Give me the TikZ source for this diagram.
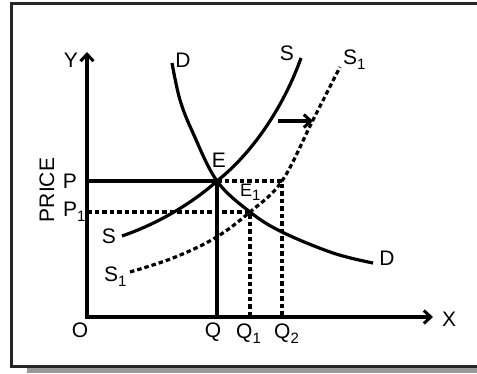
\documentclass[tikz,border=0pt]{standalone}
\usepackage{fontspec}
\setmainfont{Liberation Sans}
\usetikzlibrary{calc, positioning}
\usetikzlibrary{arrows.meta}

\newcommand{\lowsub}[1]{\raisebox{-0.45ex}{\fontsize{15}{15}\selectfont #1}}

\begin{document}
\begin{tikzpicture}[x=1pt,y=1pt,
  lbl/.style={inner sep=0pt, font=\fontsize{21}{24}\selectfont},
  axisline/.style={line width=3.4pt, -{Straight Barb[length=7pt,width=13pt,line width=3pt]}},
  curveline/.style={line width=3.2pt},
  dotline/.style={line width=3.2pt, dash pattern=on 4.5pt off 3pt}]
\useasboundingbox (0,0) rectangle (477,373);
\colorlet{framegray}{black!85}
\colorlet{shadowgray}{black!40}

% frame with shadow
\fill[shadowgray] (27,0) rectangle (477,6);
\draw[line width=3pt, framegray] (11,7) rectangle (482,369);

\coordinate (O) at (87,56);
\coordinate (Ytop) at (87,321);
\coordinate (Xend) at (433,56);
\coordinate (E) at (217,192);
\coordinate (E1) at (250,161);
\coordinate (P) at (87,192);
\coordinate (P1) at (87,161);
\coordinate (Q) at (217,56);
\coordinate (Q1) at (250,56);
\coordinate (Q2) at (282,56);
\coordinate (C2) at (282,192);

% axes
\draw[axisline] ($(O)+(0,-1.7)$) -- (Ytop);
\draw[axisline] ($(O)+(-1.7,0)$) -- (Xend);

% equilibrium lines
\draw[curveline] (P) -- (E) -- (Q);
\draw[dotline] (P1) -- (E1) -- (Q1);
\draw[dotline] (E) -- (C2) -- (Q2);

% demand
\draw[curveline] plot[smooth, tension=0.6] coordinates
  {(172,310) (180,273) (193,240) (217,192) (250,161) (282,141) (333,120) (373,110)};
% supply
\draw[curveline] (122,137) .. controls (160,150) and (195,172) .. (E)
  .. controls (255,222) and (285,270) .. (301,315);
% shifted supply
\draw[dotline] plot[smooth, tension=0.6] coordinates
  {(130,101) (173,115) (215,135) (250,161) (282,192) (313,253) (340,306)};

\coordinate (shiftA) at (278,252);
\coordinate (shiftB) at (313,252);
\draw[line width=3.2pt, -{Straight Barb[length=7pt,width=13pt,line width=3pt]}] (shiftA) -- (shiftB);

% labels
\node[lbl] (ylab) at (71,313) {Y};
\node[lbl] (xlab) at (449,54) {X};
\node[lbl] (olab) at (80,43) {O};
\node[lbl, rotate=90] (pricelab) at (47,183) {PRICE};
\node[lbl] (plab) at (70,192) {P};
\node[lbl, anchor=west] (p1lab) at (63,161) {P\lowsub{1}};
\node[lbl] (dtop) at (183,313) {D};
\node[lbl] (dbot) at (387,115) {D};
\node[lbl] (stop) at (287,320) {S};
\node[lbl] (sbot) at (109,137) {S};
\node[lbl, anchor=west] (s1top) at (343,313) {S\lowsub{1}};
\node[lbl, anchor=west] (s1bot) at (104,96) {S\lowsub{1}};
\node[lbl] (elab) at (219,213) {E};
\node[lbl, anchor=west] (e1lab) at (240,181) {\fontsize{18}{20}\selectfont E\lowsub{1}};
\node[lbl] (qlab) at (213,41) {Q};
\node[lbl, anchor=west] (q1lab) at (236,39) {Q\lowsub{1}};
\node[lbl, anchor=west] (q2lab) at (274,39) {Q\lowsub{2}};
\end{tikzpicture}
\end{document}
